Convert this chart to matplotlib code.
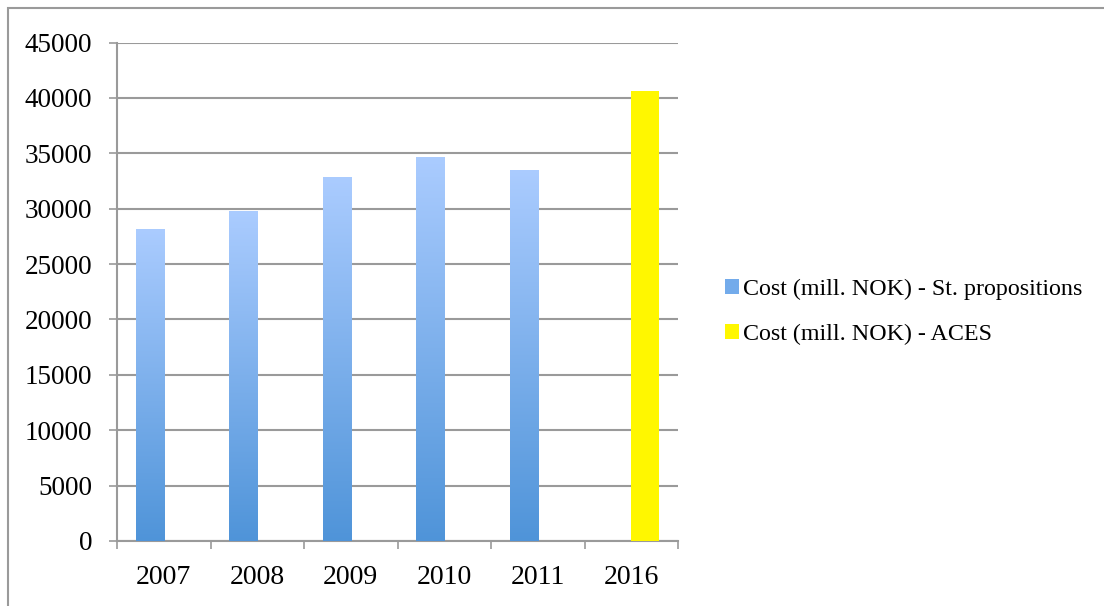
import numpy as np
import matplotlib.pyplot as plt
from matplotlib.patches import Patch, Rectangle

years = ["2007", "2008", "2009", "2010", "2011", "2016"]
cost_st_prop = [28200, 29800, 32900, 34700, 33500, np.nan]
cost_aces = [np.nan, np.nan, np.nan, np.nan, np.nan, 40600]

label_st_prop = "Cost (mill. NOK) - St. propositions"
label_aces = "Cost (mill. NOK) - ACES"

BLUE_TOP = (0.67, 0.80, 1.00)
BLUE_BOTTOM = (0.31, 0.58, 0.85)
YELLOW = "#fff700"
GRID = "#9a9a9a"


def gradient_fill(ax, bars):
    """Paint each bar with a vertical light-to-dark blue gradient"""
    ramp = np.linspace(0, 1, 256)[:, None]
    top = np.array(BLUE_TOP)
    bottom = np.array(BLUE_BOTTOM)
    img = (bottom + (top - bottom) * ramp[..., None]).reshape(256, 1, 3)
    for bar in bars:
        h = bar.get_height()
        if not np.isfinite(h) or h == 0:
            continue
        x0 = bar.get_x()
        x1 = x0 + bar.get_width()
        im = ax.imshow(img, extent=(x0, x1, 0, h), origin="lower",
                       aspect="auto", zorder=3, interpolation="bilinear")
        im.set_clip_path(bar)
        bar.set_facecolor("none")


def main():
    plt.rcParams["font.family"] = ["Liberation Serif", "DejaVu Serif"]
    fig = plt.figure(figsize=(11.04, 6.06), dpi=100)
    ax = fig.add_axes([117 / 1104, 65 / 606, 561 / 1104, 498.5 / 606])

    x = np.arange(len(years))
    w = 0.30
    b1 = ax.bar(x - w / 2, cost_st_prop, w, color=BLUE_BOTTOM, zorder=3,
                linewidth=0)
    ax.bar(x + w / 2, cost_aces, w, color=YELLOW, zorder=3, linewidth=0)
    ax.set_xlim(-0.5, len(years) - 0.5)
    ax.set_ylim(0, 45000)
    gradient_fill(ax, b1)

    ax.set_yticks(np.arange(0, 45001, 5000))
    ax.yaxis.grid(True, color=GRID, linewidth=1.5, zorder=0)
    ax.set_axisbelow(True)
    ax.tick_params(axis="y", length=6, width=1.2, color=GRID, pad=12,
                   labelsize=19.5)

    ax.set_xticks(np.arange(-0.5, len(years)), labels=[])
    ax.set_xticks(x, labels=years, minor=True)
    ax.tick_params(axis="x", which="major", length=6, width=1.2, color=GRID)
    ax.tick_params(axis="x", which="minor", length=0, pad=17, labelsize=20)

    for side in ("top", "right"):
        ax.spines[side].set_visible(False)
    for side in ("left", "bottom"):
        ax.spines[side].set_color(GRID)
        ax.spines[side].set_linewidth(1.5)

    handles = [Patch(facecolor=(0.45, 0.67, 0.92), label=label_st_prop),
               Patch(facecolor=YELLOW, label=label_aces)]
    fig.legend(handles=handles, loc="center left",
               bbox_to_anchor=(725 / 1104, 1 - 312 / 606), frameon=False,
               fontsize=17.3, handlelength=0.6, handleheight=0.6,
               handletextpad=0.15, labelspacing=1.0, borderaxespad=0,
               borderpad=0)

    # outer chart frame (only left/top edges fall inside the image)
    fig.patches.append(Rectangle((8 / 1104, -0.1), 1.2, 1 - 8 / 606 + 0.1,
                                 transform=fig.transFigure, fill=False,
                                 edgecolor=GRID, linewidth=1.5))

    fig.savefig("out.png", dpi=100)


if __name__ == "__main__":
    main()
